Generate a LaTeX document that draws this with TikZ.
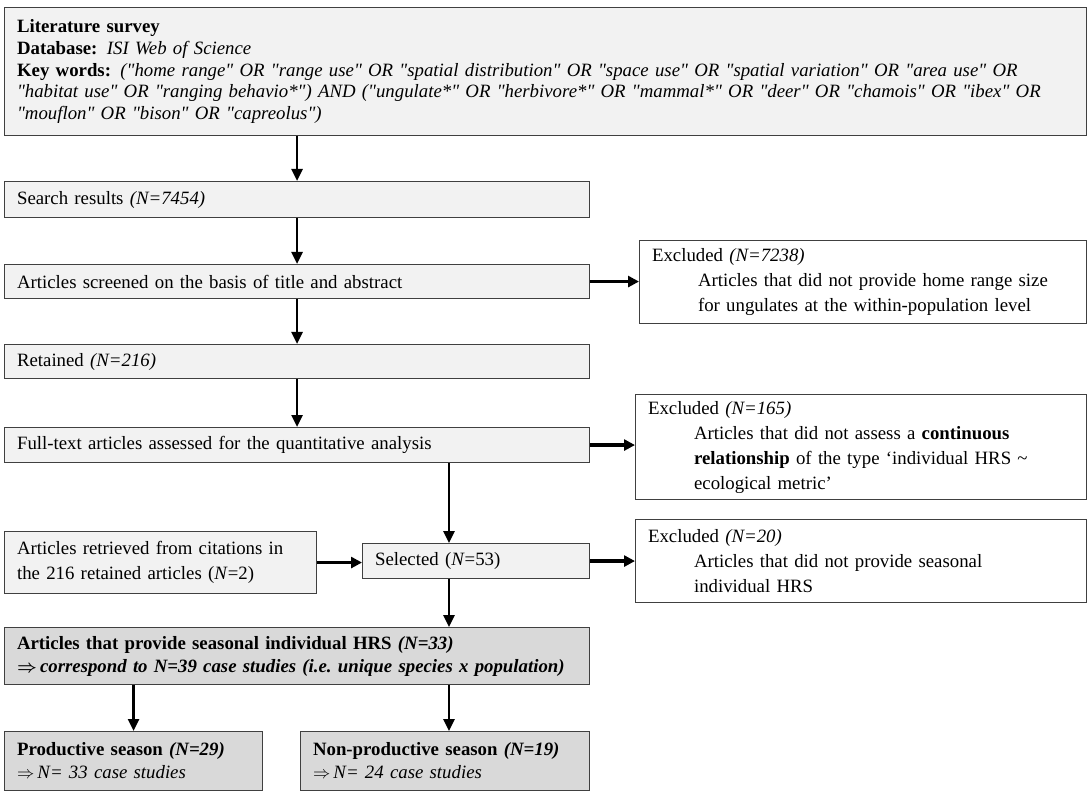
\documentclass[tikz,border=0pt]{standalone}
\usepackage{fontspec}
\setmainfont{Liberation Serif}
\usetikzlibrary{arrows.meta,calc}
\definecolor{lightfill}{HTML}{F2F2F2}
\definecolor{darkfill}{HTML}{D9D9D9}
\definecolor{bordercol}{HTML}{404040}
\newcommand{\ind}{\hspace*{46pt}}
\newcommand{\qq}{\textquotedbl}
\begin{document}
\begin{tikzpicture}[x=1pt,y=-1pt,
  box/.style={draw=bordercol, line width=1.1pt, anchor=north west, inner xsep=12.5pt, inner ysep=0pt,
    align=left, font=\fontsize{18.8}{25}\selectfont},
  lbox/.style={box, fill=lightfill},
  dbox/.style={box, fill=darkfill},
  wbox/.style={box, fill=white},
  varr/.style={line width=2.6pt, -{Triangle[length=12pt,width=11pt]}},
  harr/.style={line width=3.6pt, -{Triangle[length=11pt,width=11pt]}}
]
\useasboundingbox (0,0) rectangle (1090,794);

\node[lbox, text width=1057pt, minimum height=128pt, font=\fontsize{18.8}{21.6}\selectfont] (top) at (4,7)
 {\textbf{Literature survey}\\
  \textbf{Database:} \textit{ISI Web of Science}\\
  \textbf{Key words:} \textit{(\qq home range\qq{} OR \qq range use\qq{} OR \qq spatial distribution\qq{} OR \qq space use\qq{} OR \qq spatial variation\qq{} OR \qq area use\qq{} OR}\\
  \textit{\qq habitat use\qq{} OR \qq ranging behavio*\qq) AND (\qq ungulate*\qq{} OR \qq herbivore*\qq{} OR \qq mammal*\qq{} OR \qq deer\qq{} OR \qq chamois\qq{} OR \qq ibex\qq{} OR}\\
  \textit{\qq mouflon\qq{} OR \qq bison\qq{} OR \qq capreolus\qq)}};

\node[lbox, text width=560pt, minimum height=36pt] (search) at (4,181)
 {Search results \textit{(N=7454)}};
\node[lbox, text width=560pt, minimum height=34pt] (screened) at (4,264)
 {Articles screened on the basis of title and abstract};
\node[lbox, text width=560pt, minimum height=34pt] (retained) at (4,344)
 {Retained \textit{(N=216)}};
\node[lbox, text width=560pt, minimum height=35pt] (fulltext) at (4,427)
 {Full-text articles assessed for the quantitative analysis};

\node[wbox, text width=422pt, minimum height=83pt] (excl1) at (639,240)
 {Excluded \textit{(N=7238)}\\
  \ind Articles that did not provide home range size\\
  \ind for ungulates at the within-population level};
\node[wbox, text width=426pt, minimum height=105pt] (excl2) at (635,394)
 {Excluded \textit{(N=165)}\\
  \ind Articles that did not assess a \textbf{continuous}\\
  \ind \textbf{relationship} of the type `individual HRS \textasciitilde\\
  \ind ecological metric'};
\node[wbox, text width=426pt, minimum height=83pt] (excl3) at (635,519)
 {Excluded \textit{(N=20)}\\
  \ind Articles that did not provide seasonal\\
  \ind individual HRS};

\node[lbox, text width=287pt, minimum height=62pt] (retr) at (4,531)
 {Articles retrieved from citations in\\ the 216 retained articles (\textit{N}=2)};
\node[lbox, text width=202pt, minimum height=35pt] (selected) at (362,543)
 {Selected (\textit{N}=53)};

\node[dbox, text width=560pt, minimum height=57pt, font=\fontsize{18.8}{23}\selectfont] (big) at (4,627)
 {\textbf{Articles that provide seasonal individual HRS \textit{(N=33)}}\\
  \textbf{\boldmath$\Rightarrow$\,\textit{correspond to N=39 case studies (i.e.\ unique species x population)}}};
\node[dbox, text width=233pt, minimum height=59pt, font=\fontsize{18.8}{23}\selectfont] (prod) at (4,731)
 {\textbf{Productive season \textit{(N=29)}}\\
  $\Rightarrow$\,\textit{N= 33 case studies}};
\node[dbox, text width=264pt, minimum height=59pt, font=\fontsize{18.8}{23}\selectfont] (nonprod) at (300,731)
 {\textbf{Non-productive season \textit{(N=19)}}\\
  $\Rightarrow$\,\textit{N= 24 case studies}};

\coordinate (col) at (449,0);

\draw[varr] (top.south -| search.north) -- (search.north);
\draw[varr] (search.south) -- (screened.north);
\draw[varr] (screened.south) -- (retained.north);
\draw[varr] (retained.south) -- (fulltext.north);
\draw[harr] (screened.east) -- (screened.east -| excl1.west);
\draw[harr] (fulltext.east) -- (fulltext.east -| excl2.west);
\draw[varr] (fulltext.south -| col) -- (selected.north -| col);
\draw[harr] (retr.east) -- (retr.east -| selected.west);
\draw[harr] (selected.east) -- (selected.east -| excl3.west);
\draw[varr] (selected.south -| col) -- (big.north -| col);
\draw[varr] (big.south -| prod.north) -- (prod.north);
\draw[varr] (big.south -| col) -- (nonprod.north -| col);
\end{tikzpicture}
\end{document}
